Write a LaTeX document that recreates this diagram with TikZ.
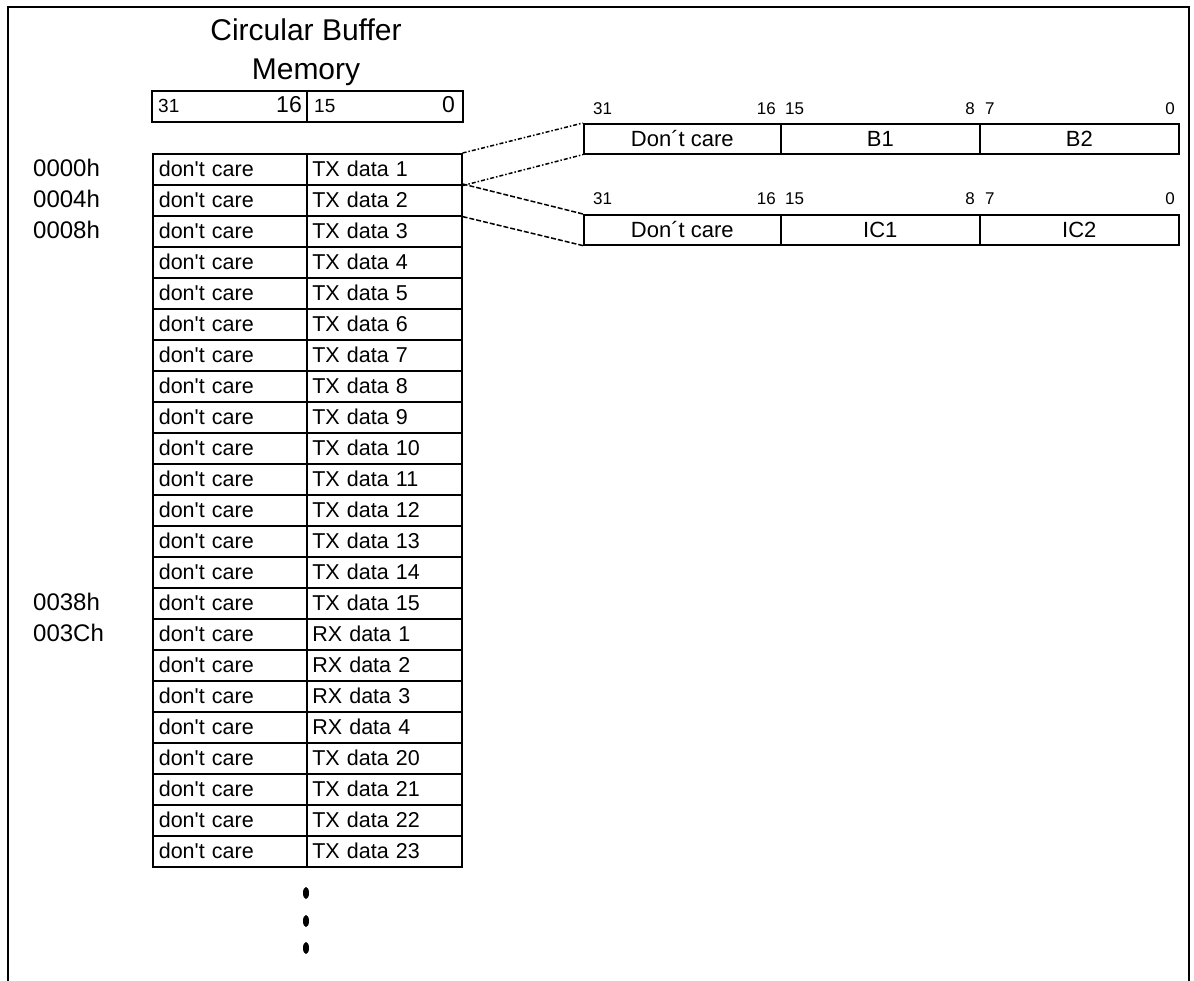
\documentclass[tikz,border=0pt]{standalone}
\usepackage{fontspec}
\setmainfont{Liberation Sans}[Ligatures=TeXOff]
\begin{document}
\begin{tikzpicture}[x=1pt,y=-1pt,
  frame/.style={line width=2pt},
  cellL/.style={draw, line width=1.6pt, anchor=north west, minimum height=31pt, text width=142pt, inner xsep=6pt, inner ysep=0pt, align=left, font=\fontsize{21.5}{24}\selectfont},
  cellR/.style={draw, line width=1.6pt, anchor=north west, minimum height=31pt, text width=144pt, inner xsep=5.5pt, inner ysep=0pt, align=left, font=\fontsize{21.5}{24}\selectfont},
  hdr/.style={draw, line width=1.6pt, anchor=north west, minimum height=31pt, inner sep=0pt},
  regc/.style={draw, line width=1.6pt, anchor=north west, minimum height=30pt, inner sep=0pt, font=\fontsize{22}{24}\selectfont},
  bitlbl/.style={inner sep=0pt, font=\fontsize{17}{19}\selectfont},
  hsmall/.style={inner sep=0pt, font=\fontsize{19}{21}\selectfont},
  hbig/.style={inner sep=0pt, font=\fontsize{23}{25}\selectfont},
  addr/.style={anchor=base west, inner sep=0pt, font=\fontsize{24}{26}\selectfont},
  title/.style={anchor=base, inner sep=0pt, font=\fontsize{30}{34}\selectfont},
  link1/.style={line width=1.5pt, dash pattern=on 4pt off 2pt on 1.5pt off 2pt},
  link2/.style={line width=1.5pt, dash pattern=on 5pt off 2pt}
]
\useasboundingbox (0,0) rectangle (1194,981);
\draw[frame] (8,981) -- (8,7) -- (1189,7) -- (1189,981);

% title
\node[title] (t1) at (306,41) {Circular Buffer};
\node[title] (t2) at (306,80) {Memory};

% header
\node[hdr, minimum width=155pt] (hL) at (151,90) {};
\node[hdr, minimum width=156pt] (hR) at (306,90) {};
\node[hsmall, anchor=base west] (h31) at (158,113) {31};
\node[hbig, anchor=base east] (h16) at (302,113) {16};
\node[hsmall, anchor=base west] (h15) at (314,113) {15};
\node[hbig, anchor=base east] (h0) at (455,113) {0};

% rows
\foreach \i/\t in {1/TX data 1,2/TX data 2,3/TX data 3,4/TX data 4,5/TX data 5,6/TX data 6,7/TX data 7,8/TX data 8,9/TX data 9,10/TX data 10,11/TX data 11,12/TX data 12,13/TX data 13,14/TX data 14,15/TX data 15,16/RX data 1,17/RX data 2,18/RX data 3,19/RX data 4,20/TX data 20,21/TX data 21,22/TX data 22,23/TX data 23}{
  \node[cellL] (l\i) at (152,{153+31*(\i-1)}) {don't care};
  \node[cellR] (r\i) at (306,{153+31*(\i-1)}) {\t};
}

% addresses
\node[addr] (a0) at (33,177) {0000h};
\node[addr] (a4) at (33,208) {0004h};
\node[addr] (a8) at (33,239) {0008h};
\node[addr] (a38) at (33,610) {0038h};
\node[addr] (a3c) at (33,641) {003Ch};

% register 1
\node[regc, minimum width=197pt] (ra1) at (583,123) {Don´t care};
\node[regc, minimum width=199pt] (rb1) at (780,123) {B1};
\node[regc, minimum width=199pt] (rc1) at (979,123) {B2};
% register 2
\node[regc, minimum width=197pt] (ra2) at (583,214) {Don´t care};
\node[regc, minimum width=199pt] (rb2) at (780,214) {IC1};
\node[regc, minimum width=199pt] (rc2) at (979,214) {IC2};

% bit labels
\foreach \r/\y in {1/115,2/205}{
  \node[bitlbl, anchor=base west] (b31\r) at (593,\y) {31};
  \node[bitlbl, anchor=base east] (b16\r) at (776,\y) {16};
  \node[bitlbl, anchor=base west] (b15\r) at (785,\y) {15};
  \node[bitlbl, anchor=base east] (b8\r) at (975,\y) {8};
  \node[bitlbl, anchor=base west] (b7\r) at (985,\y) {7};
  \node[bitlbl, anchor=base east] (b0\r) at (1175,\y) {0};
}

% links
\draw[link1] (r1.north east) -- (ra1.north west);
\draw[link1] (r1.south east) -- (ra1.south west);
\draw[link2] (r2.north east) -- (ra2.north west);
\draw[link2] (r2.south east) -- (ra2.south west);

% continuation dots
\foreach \y in {893,921,948}{
  \fill (306,\y) ellipse (3pt and 6pt);
}
\end{tikzpicture}
\end{document}
